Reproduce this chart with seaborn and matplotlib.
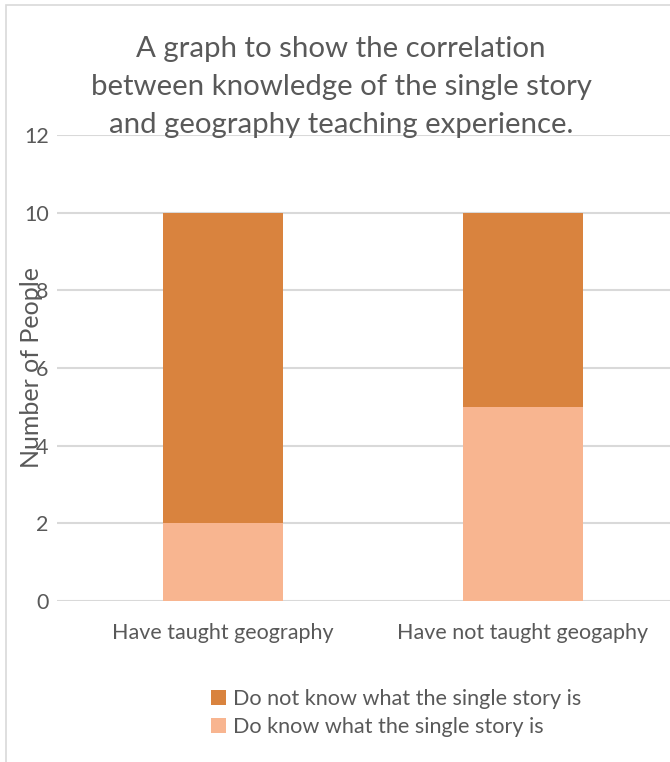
import matplotlib
matplotlib.use("Agg")
import matplotlib.pyplot as plt
import seaborn as sns
import pandas as pd
from matplotlib.patches import Patch, Rectangle

categories = ["Have taught geography", "Have not taught geogaphy"]
do_know = [2, 5]
do_not_know = [8, 5]
series_labels = ["Do not know what the single story is", "Do know what the single story is"]
title_text = "A graph to show the correlation\nbetween knowledge of the single story\nand geography teaching experience."
y_ticks = [0, 2, 4, 6, 8, 10, 12]

dark = "#D9833E"
light = "#F8B590"
text_col = "#595959"
grid_col = "#D9D9D9"

sns.set_theme(style="white")
plt.rcParams["font.family"] = ["Lato", "DejaVu Sans"]

df = pd.DataFrame({
    "category": categories,
    "know": do_know,
    "total": [a + b for a, b in zip(do_know, do_not_know)],
})

fig = plt.figure(figsize=(6.7, 7.62), dpi=100)
ax = fig.add_axes([57 / 670, 1 - 601 / 762, 1 - 57 / 670, (601 - 135) / 762])

sns.barplot(data=df, x="category", y="total", color=dark, width=0.4, saturation=1, ax=ax,
            zorder=3, linewidth=0)
sns.barplot(data=df, x="category", y="know", color=light, width=0.4, saturation=1, ax=ax,
            zorder=3, linewidth=0)

ax.set_xlim(-0.553, 1.49)
ax.set_ylim(0, 12)
ax.set_yticks(y_ticks)
ax.yaxis.grid(True, color=grid_col, linewidth=1.5, zorder=0)
ax.set_axisbelow(True)
for s in ax.spines.values():
    s.set_visible(False)
ax.tick_params(axis="both", length=0, colors=text_col, labelsize=15.5)
ax.tick_params(axis="y", pad=6)
ax.tick_params(axis="x", pad=16)
ax.set_xlabel("")
ax.set_ylabel("Number of People", color=text_col, fontsize=18, labelpad=-14)

fig.text(341 / 670, 1 - 87 / 762, title_text, ha="center", va="center",
         fontsize=21.2, color=text_col, linespacing=1.55)

handles = [Patch(facecolor=dark, edgecolor="none"), Patch(facecolor=light, edgecolor="none")]
leg = fig.legend(handles, series_labels, loc="center", bbox_to_anchor=(396 / 670, 1 - 713 / 762),
                 frameon=False, fontsize=15.6, labelcolor=text_col, handlelength=0.7,
                 handleheight=0.7, handletextpad=0.3, labelspacing=0.4)

fig.patches.append(Rectangle((6 / 670, -0.01), 1.0, 1 - 5 / 762 + 0.01, transform=fig.transFigure,
                             fill=False, edgecolor="#D9D9D9", linewidth=1.2))

fig.savefig("out.png", dpi=100)
